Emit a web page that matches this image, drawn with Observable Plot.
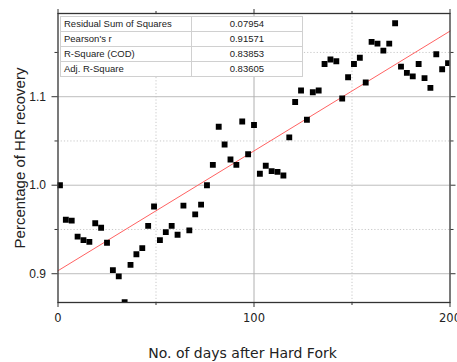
<!DOCTYPE html>
<html>
<head>
<meta charset="utf-8">
<script src="https://cdn.jsdelivr.net/npm/d3@7"></script>
<script src="https://cdn.jsdelivr.net/npm/@observablehq/plot@0.6"></script>
<style>
  html, body { margin: 0; padding: 0; background: #fff; }
  #wrap { position: relative; width: 457px; height: 362px; overflow: hidden; }
  #stats {
    position: absolute; left: 60px; top: 16px; width: 243px; height: 58px;
    border-collapse: collapse; table-layout: fixed; background: #fff;
    border: 1px solid #666; box-sizing: border-box;
    font-family: "Liberation Sans", Arial, sans-serif; font-size: 9.5px; color: #222;
  }
  #stats td { border: 1px solid #d0d0d0; padding: 0 0 0 3px; height: 14px; line-height: 12px; white-space: nowrap; overflow: hidden; }
  #stats td.v { text-align: center; padding: 0; }
</style>
</head>
<body>
<div id="wrap"></div>
<script>
// Data
const days = [1, 4, 7, 10, 13, 16, 19, 22, 25, 28,
  31, 34, 37, 40, 43, 46, 49, 52, 55, 58,
  61, 64, 67, 70, 73, 76, 79, 82, 85, 88,
  91, 94, 97, 100, 103, 106, 109, 112, 115, 118,
  121, 124, 127, 130, 133, 136, 139, 142, 145, 148,
  151, 154, 157, 160, 163, 166, 169, 172, 175, 178,
  181, 184, 187, 190, 193, 196, 199];
const recovery = [1.000, 0.961, 0.960, 0.942, 0.938, 0.936, 0.957, 0.952, 0.935, 0.904,
  0.897, 0.868, 0.910, 0.922, 0.929, 0.954, 0.976, 0.938, 0.947, 0.954,
  0.944, 0.977, 0.949, 0.967, 0.978, 1.000, 1.023, 1.066, 1.046, 1.029,
  1.023, 1.072, 1.035, 1.068, 1.013, 1.022, 1.016, 1.015, 1.011, 1.054,
  1.094, 1.107, 1.074, 1.105, 1.107, 1.137, 1.142, 1.140, 1.098, 1.122,
  1.137, 1.144, 1.116, 1.162, 1.160, 1.152, 1.160, 1.183, 1.134, 1.127,
  1.123, 1.137, 1.121, 1.110, 1.148, 1.131, 1.138];

const statLabels = ["Residual Sum of Squares", "Pearson's r", "R-Square (COD)", "Adj. R-Square"];
const statValues = ["0.07954", "0.91571", "0.83853", "0.83605"];

const xMajorTicks = [0, 100, 200];
const xMinorTicks = [50, 150];
const yMajorTicks = [0.9, 1.0, 1.1];
const yMinorTicks = [0.95, 1.05, 1.15];
const xDomain = [0, 200];
const yDomain = [0.8675, 1.194];

const xTitle = "No. of days after Hard Fork";
const yTitle = "Percentage of HR recovery";

const points = days.map((d, i) => ({day: d, value: recovery[i]}));

// Linear least-squares fit of the data
const mx = d3.mean(days), my = d3.mean(recovery);
const sxy = d3.sum(points, p => (p.day - mx) * (p.value - my));
const sxx = d3.sum(points, p => (p.day - mx) ** 2);
const slope = sxy / sxx, intercept = my - slope * mx;
const fitLine = xDomain.map(x => ({day: x, value: intercept + slope * x}));

const axisColor = "#333";
const tickFontY = "Liberation Sans, Arial, sans-serif";
const tickFontX = "DejaVu Sans, Verdana, sans-serif";
const none = () => "";

const chart = Plot.plot({
  width: 457,
  height: 362,
  marginLeft: 57.5,
  marginRight: 7.5,
  marginTop: 13,
  marginBottom: 60,
  x: {domain: xDomain},
  y: {domain: yDomain},
  style: {background: "#fff", overflow: "visible"},
  marks: [
    // grid
    Plot.ruleY(yMinorTicks, {stroke: "#c8c8c8", strokeDasharray: "1.2,2"}),
    Plot.ruleX(xMinorTicks, {stroke: "#c8c8c8", strokeDasharray: "1.2,2"}),
    Plot.ruleY(yMajorTicks, {stroke: "#bdbdbd", strokeWidth: 1}),
    Plot.ruleX([100], {stroke: "#b0b0b0", strokeWidth: 1}),
    // fit line
    Plot.line(fitLine, {x: "day", y: "value", stroke: "#ff6262", strokeWidth: 1}),
    // data
    Plot.dot(points, {x: "day", y: "value", symbol: "square", r: 3.3, fill: "#000", stroke: "none", clip: true}),
    // frame
    Plot.frame({stroke: axisColor, strokeWidth: 1.3}),
    // axes: left
    Plot.axisY(yMajorTicks, {anchor: "left", tickSize: 6, tickPadding: 6, tickFormat: d3.format(".1f"),
      fontSize: 12, fontFamily: tickFontY, fill: "#222", stroke: axisColor, label: null}),
    Plot.axisY(yMinorTicks, {anchor: "left", tickSize: 3, tickFormat: none, stroke: axisColor, label: null}),
    // right
    Plot.axisY(yMajorTicks, {anchor: "right", tickSize: 5, tickFormat: none, stroke: axisColor, label: null}),
    Plot.axisY(yMinorTicks, {anchor: "right", tickSize: 3, tickFormat: none, stroke: axisColor, label: null}),
    // bottom
    Plot.axisX(xMajorTicks, {anchor: "bottom", tickSize: 5, tickPadding: 6, tickFormat: d3.format("d"),
      fontSize: 11.5, fontFamily: tickFontX, fill: "#222", stroke: axisColor, label: null}),
    Plot.axisX(xMinorTicks, {anchor: "bottom", tickSize: 3, tickFormat: none, stroke: axisColor, label: null}),
    // top
    Plot.axisX(xMajorTicks, {anchor: "top", tickSize: 5, tickFormat: none, stroke: axisColor, label: null}),
    Plot.axisX(xMinorTicks, {anchor: "top", tickSize: 3, tickFormat: none, stroke: axisColor, label: null}),
    // titles
    Plot.text([xTitle], {frameAnchor: "bottom", textAnchor: "middle", lineAnchor: "middle",
      dx: -11.5, dy: 51, fontSize: 14, fontFamily: tickFontX, fill: "#222", style: "letter-spacing:0.35px"}),
    Plot.text([yTitle], {frameAnchor: "left", textAnchor: "middle", lineAnchor: "middle",
      rotate: -90, dx: -38.3, dy: 0, fontSize: 15, fontFamily: tickFontY, fill: "#222"})
  ]
});

const wrap = document.getElementById("wrap");
wrap.appendChild(chart);

// statistics table (legend-like annotation)
const table = document.createElement("table");
table.id = "stats";
const colgroup = document.createElement("colgroup");
colgroup.innerHTML = '<col style="width:130.7px"><col>';
table.appendChild(colgroup);
statLabels.forEach((lab, i) => {
  const tr = document.createElement("tr");
  const a = document.createElement("td"); a.textContent = lab;
  const b = document.createElement("td"); b.className = "v"; b.textContent = statValues[i];
  tr.appendChild(a); tr.appendChild(b);
  table.appendChild(tr);
});
wrap.appendChild(table);
</script>
</body>
</html>
